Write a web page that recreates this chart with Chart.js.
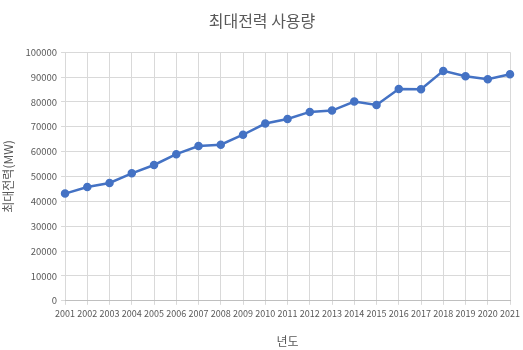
<!DOCTYPE html>
<html>
<head>
<meta charset="utf-8">
<script src="https://cdn.jsdelivr.net/npm/chart.js@4"></script>
<style>
    html, body { margin: 0; padding: 0; background: #ffffff; }
    #wrap { width: 523px; height: 350px; }
</style>
</head>
<body>
<div id="wrap"><canvas id="peakChart" width="523" height="350"></canvas></div>
<script>
// Data
const years = ['2001', '2002', '2003', '2004', '2005', '2006', '2007', '2008', '2009', '2010', '2011',
    '2012', '2013', '2014', '2015', '2016', '2017', '2018', '2019', '2020', '2021'];
const peakLoad = [43125, 45773, 47385, 51264, 54631, 58994, 62285, 62794, 66797, 71308, 73137,
    75987, 76522, 80154, 78790, 85183, 85133, 92478, 90314, 89091, 91141];

const fontFamily = "'Noto Sans CJK KR', 'Noto Sans', sans-serif";
const textGrey = '#595959';
const gridGrey = '#d9d9d9';
const lineBlue = '#4472c4';

const ctx = document.getElementById('peakChart').getContext('2d');
new Chart(ctx, {
    type: 'line',
    data: {
        labels: years,
        datasets: [{
            label: '최대전력',
            data: peakLoad,
            borderColor: lineBlue,
            backgroundColor: lineBlue,
            borderWidth: 2.5,
            pointRadius: 3,
            pointBackgroundColor: lineBlue,
            pointBorderColor: lineBlue,
            tension: 0
        }]
    },
    options: {
        responsive: false,
        animation: false,
        layout: { padding: { left: 1, right: 0, top: 0, bottom: 1 } },
        scales: {
            x: {
                offset: false,
                grid: { color: gridGrey, drawTicks: true, tickLength: 4 },
                border: { color: '#bfbfbf' },
                ticks: {
                    color: textGrey,
                    font: { family: fontFamily, size: 9 },
                    maxRotation: 0,
                    autoSkip: false,
                    padding: 3
                },
                title: {
                    display: true,
                    text: '년도',
                    color: textGrey,
                    font: { family: fontFamily, size: 12 },
                    padding: { top: 13, bottom: 0 }
                }
            },
            y: {
                min: 0,
                max: 100000,
                grid: { color: gridGrey, drawTicks: true, tickLength: 4 },
                border: { display: false },
                ticks: {
                    stepSize: 10000,
                    color: textGrey,
                    font: { family: fontFamily, size: 9.5 },
                    padding: 4,
                    callback: function(value) {
                        return String(value);
                    }
                },
                title: {
                    display: true,
                    text: '최대전력(MW)',
                    color: textGrey,
                    font: { family: fontFamily, size: 12 },
                    padding: { top: 0, bottom: 6 }
                }
            }
        },
        plugins: {
            legend: { display: false },
            tooltip: { enabled: false },
            title: {
                display: true,
                text: '최대전력 사용량',
                color: textGrey,
                font: { family: fontFamily, size: 16, weight: 'normal' },
                padding: { top: 11, bottom: 22 }
            }
        }
    }
});
</script>
</body>
</html>
